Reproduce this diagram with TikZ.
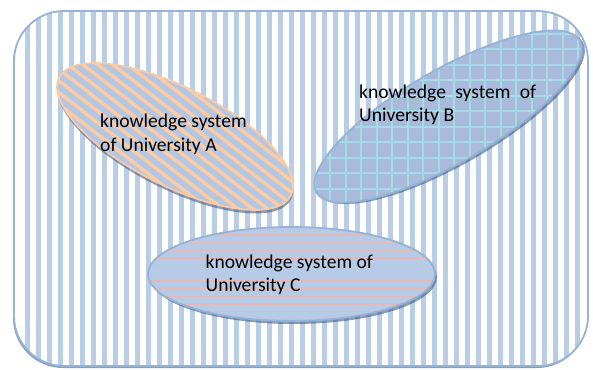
\documentclass[tikz,border=0pt]{standalone}
\usepackage{fontspec}
\setmainfont{Carlito}
\usepackage{xcolor}

\definecolor{boxstripe}{HTML}{B9CDE5}
\definecolor{boxline}{HTML}{95B3D7}
\definecolor{peach}{HTML}{F9CBA7}
\definecolor{fillA}{HTML}{B3C6E2}
\definecolor{fillB}{HTML}{A9BBDA}
\definecolor{gridB}{HTML}{A6DAE6}
\definecolor{fillC}{HTML}{B8CBE6}
\definecolor{pinkC}{HTML}{E6B9B8}
\definecolor{shade}{HTML}{3C5A87}

\tikzset{
  unitext/.style={font=\fontsize{19.6}{23.5}\selectfont, inner sep=0pt, align=left, anchor=base west},
  unishadow/.style={fill=shade, opacity=0.6},
}

\begin{document}
\begin{tikzpicture}[x=1pt, y=1pt]
    \useasboundingbox (0,0) rectangle (593,369);

    \coordinate (uniA) at (175,232.5);
    \coordinate (uniB) at (448,252.5);
    \coordinate (uniC) at (291.5,95);

    % outer frame
    \fill[unishadow, rounded corners=50pt] (13,1) rectangle (587,356);
    \fill[white, rounded corners=50pt] (14,3) rectangle (588,358);
    \begin{scope}
        \clip[rounded corners=50pt] (14,3) rectangle (588,358);
        \foreach \x in {25,36,...,585}
            \fill[boxstripe] (\x,0) rectangle +(5,369);
    \end{scope}
    \draw[boxline, line width=1.8pt, rounded corners=50pt] (14,3) rectangle (588,358);

    % University A
    \fill[unishadow, rotate around={-27:(uniA)}] ([shift={(2,-3)}]uniA) ellipse (130 and 49);
    \begin{scope}
        \clip[rotate around={-27:(uniA)}] (uniA) ellipse (130 and 49);
        \fill[fillA] (0,0) rectangle (593,369);
        \begin{scope}[shift={(uniA)}, rotate=-38]
            \foreach \k in {-20,...,20}
                \draw[peach, line width=3.6pt] (-200,{\k*9.2}) -- (200,{\k*9.2});
        \end{scope}
    \end{scope}
    \draw[peach, line width=1.8pt, rotate around={-27:(uniA)}] (uniA) ellipse (130 and 49);

    % University B
    \fill[unishadow, rotate around={30:(uniB)}] ([shift={(2,-3)}]uniB) ellipse (152 and 46.5);
    \begin{scope}
        \clip[rotate around={30:(uniB)}] (uniB) ellipse (152 and 46.5);
        \fill[fillB] (0,0) rectangle (593,369);
        \foreach \k in {-15,...,5}
            \draw[gridB, line width=2pt] ({516+15.5*\k},0) -- ++(0,369);
        \foreach \k in {-1,...,14}
            \draw[gridB, line width=2pt] (0,{335-15.5*\k}) -- ++(593,0);
    \end{scope}
    \draw[boxline, line width=1.8pt, rotate around={30:(uniB)}] (uniB) ellipse (152 and 46.5);

    % University C
    \fill[unishadow] ([shift={(2,-3)}]uniC) ellipse (143.5 and 47);
    \begin{scope}
        \clip (uniC) ellipse (143.5 and 47);
        \fill[fillC] (0,0) rectangle (593,369);
        \foreach \k in {-3,...,11}
            \draw[pinkC, line width=1.3pt] (0,{126.3-7.67*\k}) -- ++(593,0);
    \end{scope}
    \draw[boxline, line width=1.8pt] (uniC) ellipse (143.5 and 47);

    \node[unitext] (labA) at (100,217.5) {knowledge system\\of University A};
    \node[unitext] (labB) at (359,247.3) {\makebox[177pt][s]{knowledge system of}\\University B};
    \node[unitext] (labC) at (205.5,77.3) {knowledge system of\\University C};
\end{tikzpicture}
\end{document}
